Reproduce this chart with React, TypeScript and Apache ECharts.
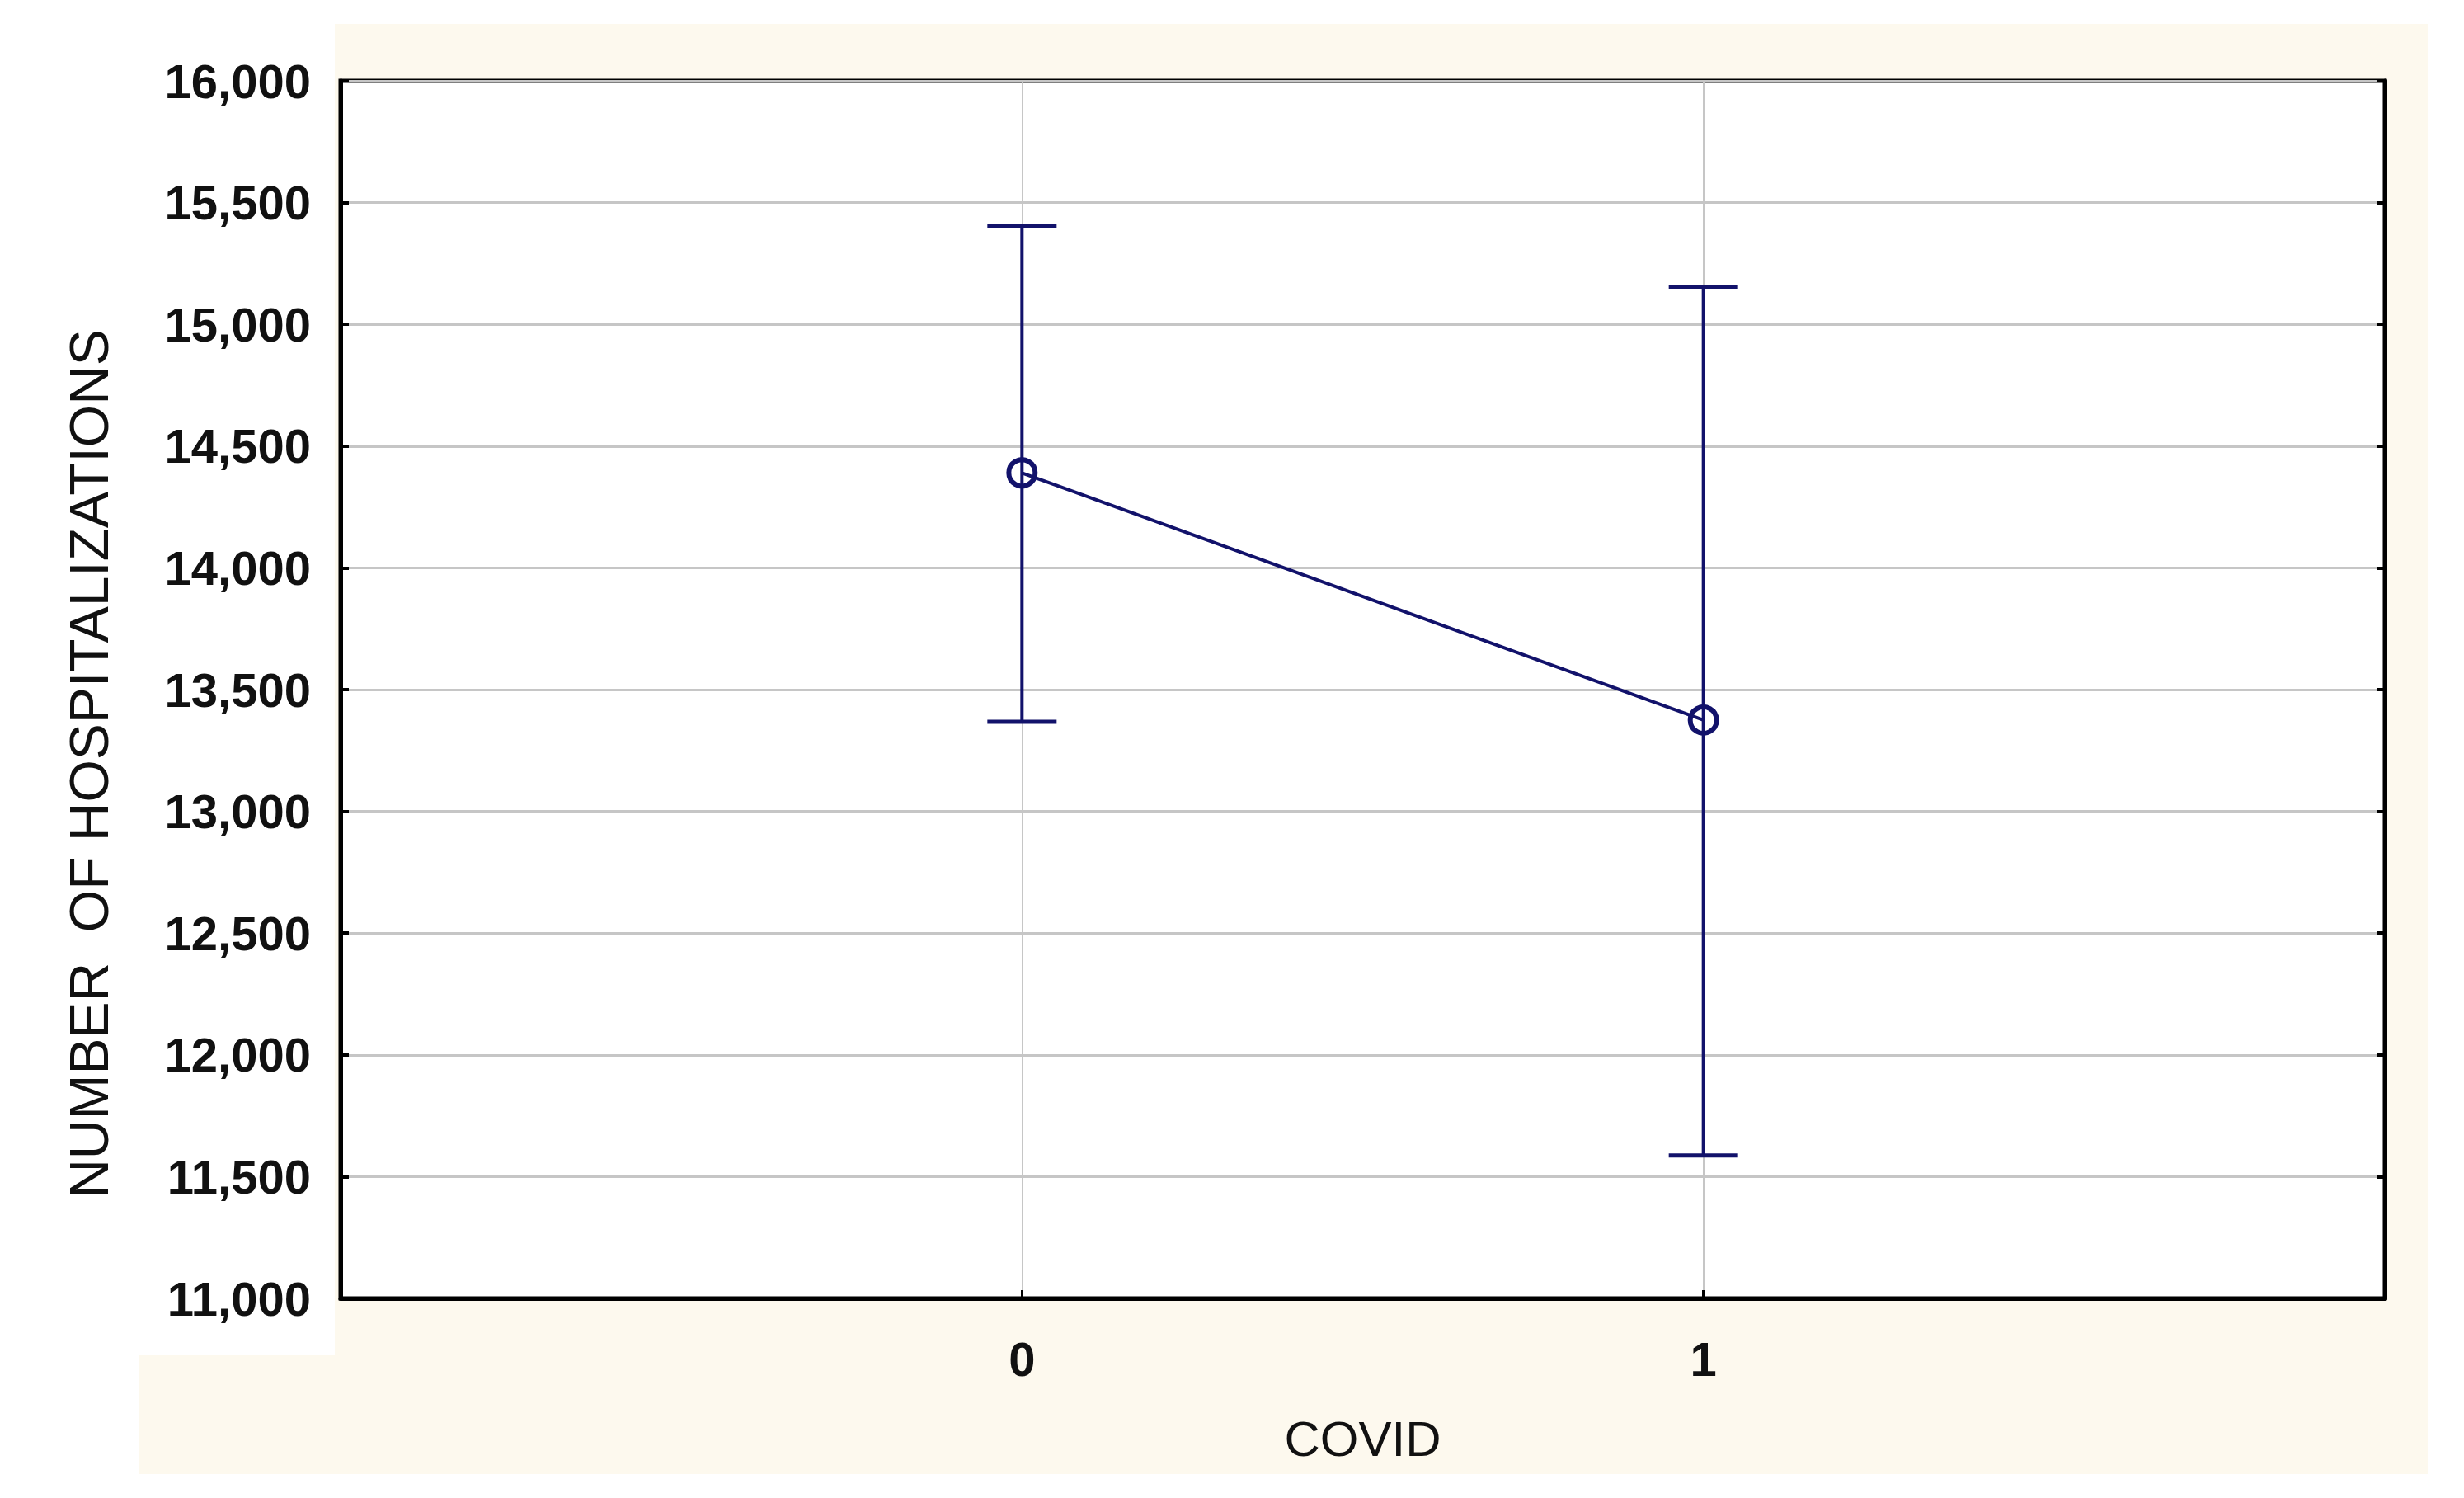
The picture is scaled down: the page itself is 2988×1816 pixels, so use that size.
import React, { useEffect, useRef } from "react";
import * as echarts from "echarts";

const covidLevels = [0, 1];
const meanValues = [14390, 13375];
const upperValues = [15405, 15155];
const lowerValues = [13368, 11587];

const yTicksMin = 11000;
const yTicksMax = 16000;
const yTickStep = 500;

const yTitle = "NUMBER  OF HOSPITALIZATIONS";
const xTitle = "COVID";

const NAVY = "#12126b";
const GRID_GRAY = "#c6c6c6";
const CREAM = "#fdf9ee";
const FONT = "'Liberation Sans', Arial, sans-serif";

const fmt = (v: number) => {
  const s = String(Math.round(v));
  return s.replace(/\B(?=(\d{3})+(?!\d))/g, ",");
};

export default function App() {
  const ref = useRef<HTMLDivElement>(null);

  useEffect(() => {
    if (!ref.current) return;
    const chart = echarts.init(ref.current, null, { renderer: "svg" });

    const lineData = covidLevels.map((c, i) => [c, meanValues[i]]);
    const errData = covidLevels.map((c, i) => [c, lowerValues[i], upperValues[i]]);

    const option: any = {
      animation: false,
      backgroundColor: "#ffffff",
      graphic: [
        {
          type: "rect",
          z: -10,
          shape: { x: 406, y: 29, width: 2538, height: 1758 },
          style: { fill: CREAM },
        },
        {
          type: "rect",
          z: -10,
          shape: { x: 168, y: 1643, width: 240, height: 144 },
          style: { fill: CREAM },
        },
        {
          type: "text",
          x: 108,
          y: 926,
          rotation: Math.PI / 2,
          style: {
            text: yTitle,
            fontFamily: FONT,
            fontSize: 66,
            fill: "#111",
            textAlign: "center",
            textVerticalAlign: "middle",
          },
        },
      ],
      grid: {
        left: 413,
        top: 98,
        right: 96,
        bottom: 242,
        show: true,
        backgroundColor: "#ffffff",
        borderColor: "#000000",
        borderWidth: 5,
        z: 0,
      },
      xAxis: {
        type: "value",
        min: -1,
        max: 2,
        interval: 1,
        name: xTitle,
        nameLocation: "middle",
        nameGap: 140,
        nameTextStyle: { fontFamily: FONT, fontSize: 60, color: "#111" },
        axisLine: { show: true, onZero: false, lineStyle: { color: "#000", width: 5 } },
        axisTick: {
          show: true,
          inside: true,
          length: 10,
          lineStyle: { color: "#000", width: 3 },
        },
        axisLabel: {
          show: true,
          margin: 44,
          fontFamily: FONT,
          fontSize: 58,
          fontWeight: "bold",
          color: "#111",
          formatter: (v: number) => (v === 0 || v === 1 ? String(v) : ""),
        },
        splitLine: { show: true, lineStyle: { color: GRID_GRAY, width: 2 } },
      },
      yAxis: [
        {
          type: "value",
          position: "left",
          min: yTicksMin,
          max: yTicksMax,
          interval: yTickStep,
          axisLine: { show: true, onZero: false, lineStyle: { color: "#000", width: 5 } },
          axisTick: {
            show: true,
            inside: true,
            length: 10,
            lineStyle: { color: "#000", width: 4 },
          },
          axisLabel: {
            margin: 36,
            fontFamily: FONT,
            fontSize: 58,
            fontWeight: "bold",
            color: "#111",
            formatter: (v: number) => fmt(v),
          },
          splitLine: { show: true, lineStyle: { color: GRID_GRAY, width: 3 } },
        },
        {
          type: "value",
          position: "right",
          min: yTicksMin,
          max: yTicksMax,
          interval: yTickStep,
          axisLine: { show: true, onZero: false, lineStyle: { color: "#000", width: 5 } },
          axisTick: {
            show: true,
            inside: true,
            length: 10,
            lineStyle: { color: "#000", width: 4 },
          },
          axisLabel: { show: false },
          splitLine: { show: false },
        },
      ],
      series: [
        {
          type: "custom",
          z: 3,
          data: errData,
          encode: { x: 0, y: [1, 2] },
          renderItem: (params: any, api: any) => {
            const x = api.value(0);
            const lo = api.value(1);
            const hi = api.value(2);
            const pHi = api.coord([x, hi]);
            const pLo = api.coord([x, lo]);
            const hw = 42;
            return {
              type: "group",
              children: [
                { type: "line", shape: { x1: pHi[0], y1: pHi[1], x2: pLo[0], y2: pLo[1] }, style: { stroke: NAVY, lineWidth: 4 } },
                { type: "line", shape: { x1: pHi[0] - hw, y1: pHi[1], x2: pHi[0] + hw, y2: pHi[1] }, style: { stroke: NAVY, lineWidth: 5 } },
                { type: "line", shape: { x1: pLo[0] - hw, y1: pLo[1], x2: pLo[0] + hw, y2: pLo[1] }, style: { stroke: NAVY, lineWidth: 5 } },
              ],
            };
          },
        },
        {
          type: "line",
          z: 4,
          data: lineData,
          symbol: "circle",
          symbolSize: 32,
          lineStyle: { color: NAVY, width: 4 },
          itemStyle: { color: "rgba(255,255,255,0)", borderColor: NAVY, borderWidth: 6 },
        },
      ],
    };

    chart.setOption(option);
    return () => chart.dispose();
  }, []);

  return (
    <div
      ref={ref}
      style={{ position: "absolute", left: 0, top: 0, width: 2988, height: 1816 }}
    />
  );
}
